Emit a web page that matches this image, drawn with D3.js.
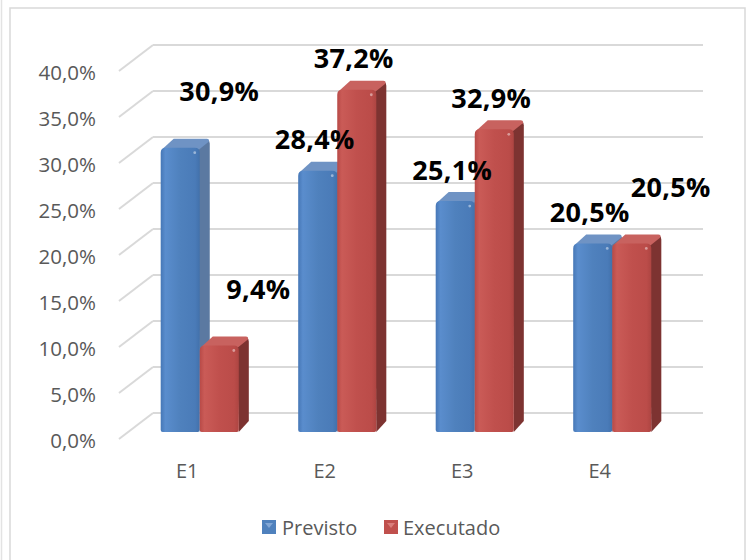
<!DOCTYPE html>
<html>
<head>
<meta charset="utf-8">
<script src="https://cdn.jsdelivr.net/npm/d3@7/dist/d3.min.js"></script>
<style>
  html, body { margin: 0; padding: 0; background: #fff; }
  svg { display: block; }
</style>
</head>
<body>
<script>
// ---- data ----
const categories = ["E1", "E2", "E3", "E4"];
const seriesNames = ["Previsto", "Executado"];
const previsto = [30.9, 28.4, 25.1, 20.5];
const executado = [9.4, 37.2, 32.9, 20.5];
const yTicks = [0, 5, 10, 15, 20, 25, 30, 35, 40];
// label placement (layout): which labels Excel pushed back/up-right
const previstoLabelShift = [true, false, false, false];
const executadoLabelShift = [true, false, false, true];

// ---- layout ----
const W = 748, H = 560;
const depthX = -34, depthY = 26;      // wall back -> front offset
const barDepthX = 10, barDepthY = -9; // bar 3D depth
const barOffsetY = 19;                // bar baseline below back wall baseline

const svg = d3.select("body").append("svg").attr("width", W).attr("height", H);

const defs = svg.append("defs");
function hGrad(id, stops) {
  const g = defs.append("linearGradient").attr("id", id).attr("x1", "0").attr("x2", "1").attr("y1", "0").attr("y2", "0");
  stops.forEach(s => g.append("stop").attr("offset", s[0]).attr("stop-color", s[1]));
}
hGrad("gBlue", [["0", "#4677b6"], ["0.12", "#5a8dcd"], ["0.5", "#4f81bd"], ["0.88", "#4a7bb8"], ["1", "#4271ab"]]);
hGrad("gRed", [["0", "#b84a47"], ["0.12", "#ca5b57"], ["0.5", "#c0504d"], ["0.88", "#bb4c49"], ["1", "#ad4542"]]);

const colors = [
  { front: "url(#gBlue)", side: "#5b79a1", top: "#6f93c4", legend: "#4f81bd" },
  { front: "url(#gRed)", side: "#7d3331", top: "#c8625f", legend: "#c0504d" }
];

// chart frame
svg.append("line").attr("x1", 1.5).attr("x2", 1.5).attr("y1", 0).attr("y2", H).attr("stroke", "#e3e3e3").attr("stroke-width", 1.5);
svg.append("rect").attr("x", 10).attr("y", 8).attr("width", 735).attr("height", H + 10)
  .attr("fill", "#fff").attr("stroke", "#d9d9d9").attr("stroke-width", 1.5);

// scales
const yBack = d3.scaleLinear().domain([0, 40]).range([413, 45]);
const yBar = d3.scaleLinear().domain([0, 40]).range([413 + barOffsetY, 45 + barOffsetY]);
const wallLeft = 153, wallRight = 703;
const x = d3.scaleBand().domain(categories).range([131, 681]).padding(0);
const barW = x.bandwidth() * 0.284;

// gridlines
const grid = svg.append("g");
yTicks.forEach(t => {
  const yy = yBack(t);
  grid.append("line").attr("x1", wallLeft).attr("x2", wallRight).attr("y1", yy).attr("y2", yy)
    .attr("stroke", "#d9d9d9").attr("stroke-width", 2);
  grid.append("line").attr("x1", wallLeft + depthX).attr("x2", wallLeft).attr("y1", yy + depthY).attr("y2", yy)
    .attr("stroke", "#d9d9d9").attr("stroke-width", 2);
});

// y tick labels
svg.append("g").selectAll("text").data(yTicks).join("text")
  .attr("x", 96).attr("y", d => yBack(d) + depthY + 1)
  .attr("text-anchor", "end").attr("dominant-baseline", "central")
  .attr("font-family", "Open Sans, sans-serif").attr("font-size", 20.5).attr("fill", "#595959")
  .text(d => d3.format(".1f")(d).replace(".", ",") + "%");

// category labels
svg.append("g").selectAll("text").data(categories).join("text")
  .attr("x", d => x(d) + x.bandwidth() / 2 - 12.5).attr("y", 470)
  .attr("text-anchor", "middle").attr("dominant-baseline", "central")
  .attr("font-family", "Open Sans, sans-serif").attr("font-size", 20).attr("fill", "#595959")
  .text(d => d);

// bars
const series = [previsto, executado];
const shifts = [previstoLabelShift, executadoLabelShift];
const bars = svg.append("g");
const base = yBar(0);
function roundedTopRect(x0, y0, w, h, r) {
  return `M${x0},${y0 + h} L${x0},${y0 + r} Q${x0},${y0} ${x0 + r},${y0} L${x0 + w - r},${y0} Q${x0 + w},${y0} ${x0 + w},${y0 + r} L${x0 + w},${y0 + h - 2} Q${x0 + w},${y0 + h} ${x0 + w - 2},${y0 + h} L${x0 + 2},${y0 + h} Q${x0},${y0 + h} ${x0},${y0 + h - 2} Z`;
}
const labelData = [];
categories.forEach((c, i) => {
  const cx = x(c) + x.bandwidth() / 2;
  series.forEach((vals, s) => {
    const v = vals[i];
    const x0 = s === 0 ? cx - barW : cx;
    const top = yBar(v);
    const g = bars.append("g");
    // side face
    g.append("path")
      .attr("d", `M${x0 + barW - 2},${top + 1} L${x0 + barW + barDepthX - 2},${top + barDepthY + 1} Q${x0 + barW + barDepthX},${top + barDepthY + 2} ${x0 + barW + barDepthX},${top + barDepthY + 5} L${x0 + barW + barDepthX},${base + barDepthY - 2} L${x0 + barW},${base} Z`)
      .attr("fill", colors[s].side);
    // top face
    g.append("path")
      .attr("d", `M${x0 + 2},${top + 1} L${x0 + barDepthX + 3},${top + barDepthY} L${x0 + barW + barDepthX - 3},${top + barDepthY} Q${x0 + barW + barDepthX},${top + barDepthY} ${x0 + barW + barDepthX - 1},${top + barDepthY + 3} L${x0 + barW - 1},${top + 2} Z`)
      .attr("fill", colors[s].top);
    // front face
    g.append("path").attr("d", roundedTopRect(x0, top, barW, base - top, 5)).attr("fill", colors[s].front);
    // highlight
    g.append("circle").attr("cx", x0 + barW - 5).attr("cy", top + 5).attr("r", 1.4).attr("fill", "#ffffff").attr("opacity", 0.45);
    const shifted = shifts[s][i];
    labelData.push({
      v,
      x: x0 + barW / 2 - 3 + (shifted ? 42 : 0),
      y: top - 21.5 + (shifted ? -25 : 0)
    });
  });
});

// data labels
svg.append("g").selectAll("text").data(labelData).join("text")
  .attr("x", d => d.x).attr("y", d => d.y)
  .attr("text-anchor", "middle")
  .attr("font-family", "Open Sans, sans-serif").attr("font-weight", "bold").attr("font-size", 27)
  .attr("letter-spacing", 0.3).attr("fill", "#000")
  .text(d => d3.format(".1f")(d.v).replace(".", ",") + "%");

// legend
const legend = svg.append("g");
const legendItems = [{ name: seriesNames[0], sx: 262, tx: 282 }, { name: seriesNames[1], sx: 384, tx: 403 }];
legendItems.forEach((it, s) => {
  const lg = legend.append("g");
  lg.append("rect").attr("x", it.sx).attr("y", 520).attr("width", 14).attr("height", 14).attr("fill", colors[s].legend);
  lg.append("path").attr("d", `M${it.sx + 3},${523} L${it.sx + 11},${523} L${it.sx + 7},${528} Z`).attr("fill", s === 0 ? "#8fb0dc" : "#e08a87").attr("opacity", 0.8);
  lg.append("text").attr("x", it.tx).attr("y", 527).attr("dominant-baseline", "central")
    .attr("font-family", "Open Sans, sans-serif").attr("font-size", 20).attr("fill", "#595959").text(it.name);
});
</script>
</body>
</html>
